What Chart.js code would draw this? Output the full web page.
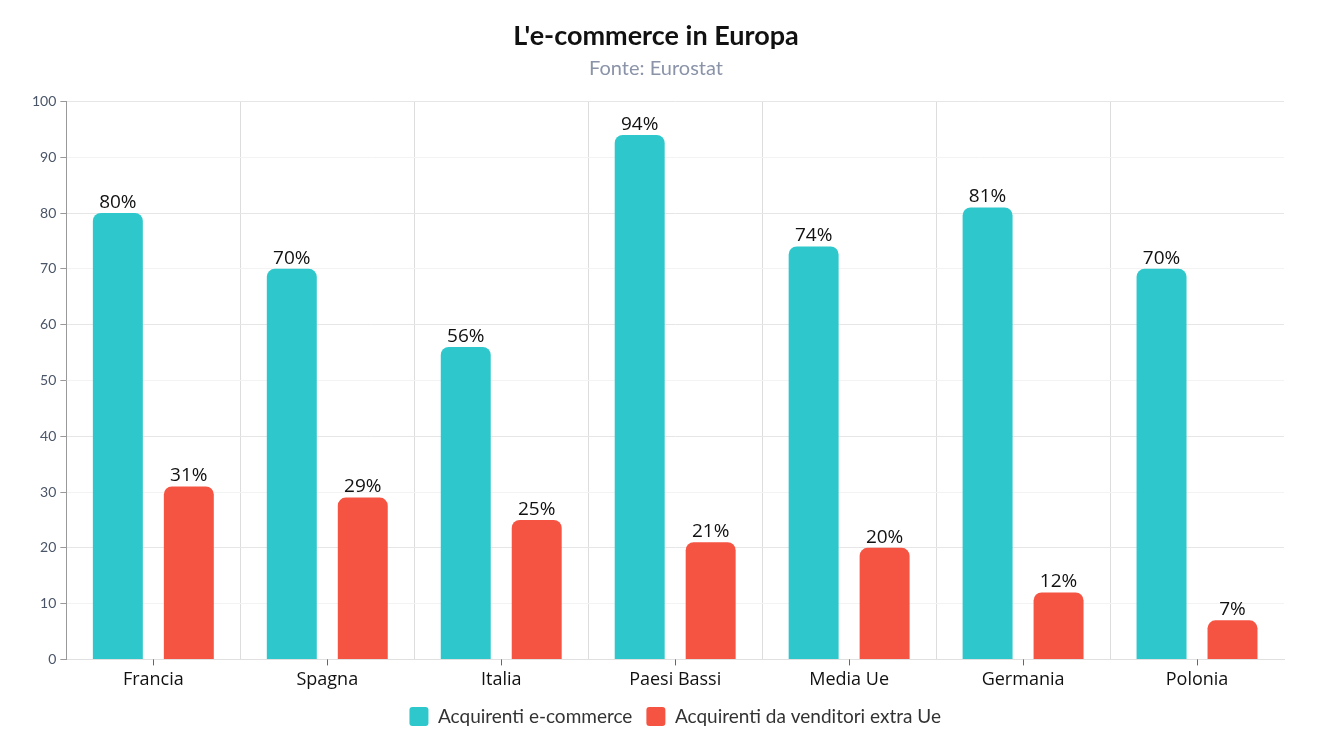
<!DOCTYPE html>
<html><head><meta charset="utf-8">
<script src="https://cdn.jsdelivr.net/npm/chart.js@4"></script>
<style>html,body{margin:0;padding:0;background:#fff}#wrap{width:1320px;height:750px}</style>
</head><body><div id="wrap"><canvas id="c"></canvas></div>
<script>
const categories = ['Francia','Spagna','Italia','Paesi Bassi','Media Ue','Germania','Polonia'];
const ecommerce = [80,70,56,94,74,81,70];
const extraUe = [31,29,25,21,20,12,7];
const seriesNames = ['Acquirenti e-commerce','Acquirenti da venditori extra Ue'];
const yTicks = [0,10,20,30,40,50,60,70,80,90,100];

const labelPlugin = {
  id:'valueLabels',
  afterDatasetsDraw(chart){
    const ctx = chart.ctx;
    ctx.save();
    ctx.font = '19px "Open Sans"';
    ctx.fillStyle = '#111';
    ctx.textAlign = 'center';
    ctx.textBaseline = 'bottom';
    chart.data.datasets.forEach((ds,i)=>{
      chart.getDatasetMeta(i).data.forEach((bar,j)=>{
        ctx.fillText(ds.data[j]+'%', bar.x, bar.y-1);
      });
    });
    ctx.restore();
  }
};
const xTickPlugin = {
  id:'xTicks',
  afterDraw(chart){
    const s = chart.scales.x, ctx = chart.ctx;
    ctx.save();
    ctx.strokeStyle = '#666'; ctx.lineWidth = 1;
    s.ticks.forEach((t,i)=>{
      const x = Math.round(s.getPixelForTick(i))+0.5;
      ctx.beginPath(); ctx.moveTo(x, s.top); ctx.lineTo(x, s.top+6); ctx.stroke();
    });
    ctx.restore();
  }
};
const legendCenter = {
  id:'legendCenter',
  afterLayout(chart){
    const lg = chart.legend, a = chart.chartArea;
    if(!lg) return;
    const shift = (a.left+a.right)/2 - (lg.left+lg.right)/2;
    lg.left += shift; lg.right += shift;
  }
};

new Chart(document.getElementById('c'),{
  type:'bar',
  data:{labels:categories,datasets:[
    {label:seriesNames[0],data:ecommerce,backgroundColor:'#2ec8cc',borderRadius:{topLeft:8,topRight:8},borderSkipped:'bottom',categoryPercentage:0.816,barPercentage:0.704},
    {label:seriesNames[1],data:extraUe,backgroundColor:'#f55442',borderRadius:{topLeft:8,topRight:8},borderSkipped:'bottom',categoryPercentage:0.816,barPercentage:0.704}
  ]},
  options:{
    responsive:true,maintainAspectRatio:false,animation:false,
    layout:{padding:{left:28,right:36,top:6,bottom:14}},
    plugins:{
      title:{display:true,text:"L'e-commerce in Europa",color:'#111',font:{family:'Lato',size:27,weight:'bold'},padding:{top:14,bottom:4}},
      subtitle:{display:true,text:'Fonte: Eurostat',color:'#8a93a8',font:{family:'Lato',size:20},padding:{bottom:21}},
      legend:{position:'bottom',labels:{color:'#333',font:{family:'Lato',size:19},boxWidth:19,boxHeight:19,useBorderRadius:true,borderRadius:3,padding:14}},
      tooltip:{enabled:false}
    },
    scales:{
      x:{grid:{offset:true,color:(c)=> (c.type!=='tick'||c.index===0)?'rgba(0,0,0,0)':'#dddddd',drawTicks:false},
         border:{color:'#e0e0e0'},
         afterFit:(s)=>{s.height-=8;},
         ticks:{color:'#111',font:{family:'Open Sans',size:18},padding:10}},
      y:{min:0,max:100,afterBuildTicks:(s)=>{s.ticks=yTicks.map(v=>({value:v}));},
         grid:{color:(c)=> (c.tick && c.tick.value%20===0)?'#e6e6e6':'#f3f3f3',tickColor:'#999',tickLength:6},
         border:{color:'#999'},
         ticks:{color:'#4a5568',font:{family:'Lato',size:14},padding:4}}
    }
  },
  plugins:[labelPlugin,xTickPlugin,legendCenter]
});
</script></body></html>
